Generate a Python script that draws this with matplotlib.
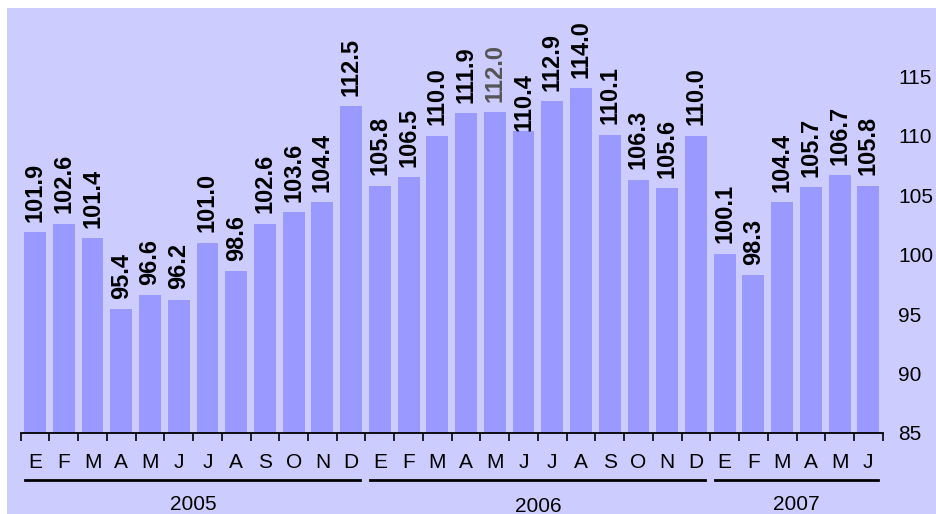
import numpy as np
import matplotlib
matplotlib.use('Agg')
import matplotlib.pyplot as plt
from matplotlib.patches import Rectangle
from matplotlib.transforms import blended_transform_factory

plt.rcParams['font.family'] = ['Liberation Sans', 'DejaVu Sans']

# datos
months = ['E', 'F', 'M', 'A', 'M', 'J', 'J', 'A', 'S', 'O', 'N', 'D']
values_2005 = [101.9, 102.6, 101.4, 95.4, 96.6, 96.2, 101.0, 98.6, 102.6, 103.6, 104.4, 112.5]
values_2006 = [105.8, 106.5, 110.0, 111.9, 112.0, 110.4, 112.9, 114.0, 110.1, 106.3, 105.6, 110.0]
values_2007 = [100.1, 98.3, 104.4, 105.7, 106.7, 105.8]
years = ['2005', '2006', '2007']
y_ticks = [85, 90, 95, 100, 105, 110, 115]

values = values_2005 + values_2006 + values_2007
month_labels = months + months + months[:len(values_2007)]
x = np.arange(len(values))

W, H = 937, 514
AX_H = 416  # altura del eje en px

fig = plt.figure(figsize=(W / 100, H / 100), dpi=100)
fig.patches.append(Rectangle((7 / W, 0), 1 - 7 / W, (H - 8) / H, transform=fig.transFigure,
                             facecolor='#CCCCFF', edgecolor='none', zorder=-10))
ax = fig.add_axes([20.7 / W, 81 / H, 862 / W, AX_H / H])
ax.set_facecolor('none')

ax.bar(x, np.array(values) - 85, bottom=85, width=0.76, color='#9999FF', zorder=2)
ax.set_xlim(-0.5, len(values) - 0.5)
ax.set_ylim(85, 120)

for s in ['top', 'left', 'right']:
    ax.spines[s].set_visible(False)
ax.spines['bottom'].set_linewidth(1.3)
ax.spines['bottom'].set_zorder(3)

ax.set_xticks(np.arange(-0.5, len(values), 1))
ax.set_xticklabels([])
ax.tick_params(axis='x', direction='out', length=6, width=1.2)

ax.yaxis.tick_right()
ax.set_yticks(y_ticks)
ax.tick_params(axis='y', length=0, pad=11, labelsize=15)

# etiquetas de valor
for i, v in enumerate(values):
    color = '#555555' if i == 16 else 'black'
    off = 0 if i == 17 else 7.5
    ax.annotate(f'{v:.1f}', (i, v), xytext=(0, off), textcoords='offset points',
                rotation=90, ha='center', va='bottom', fontsize=17,
                fontweight='bold', color=color, zorder=4)

trans = blended_transform_factory(ax.transData, ax.transAxes)
for i, m in enumerate(month_labels):
    ax.text(i, -30 / AX_H, m, transform=trans, ha='center', va='center', fontsize=15)

starts = [0, 12, 24]
ends = [11, 23, len(values) - 1]
year_y = [-71, -73, -71]
for yr, s, e, yy in zip(years, starts, ends, year_y):
    ax.plot([s - 0.34, e + 0.32], [-47 / AX_H] * 2, transform=trans, clip_on=False,
            color='black', lw=2)
    ax.text((s + e) / 2, yy / AX_H, yr, transform=trans, ha='center', va='center', fontsize=15)

fig.savefig('out.png', dpi=100)
